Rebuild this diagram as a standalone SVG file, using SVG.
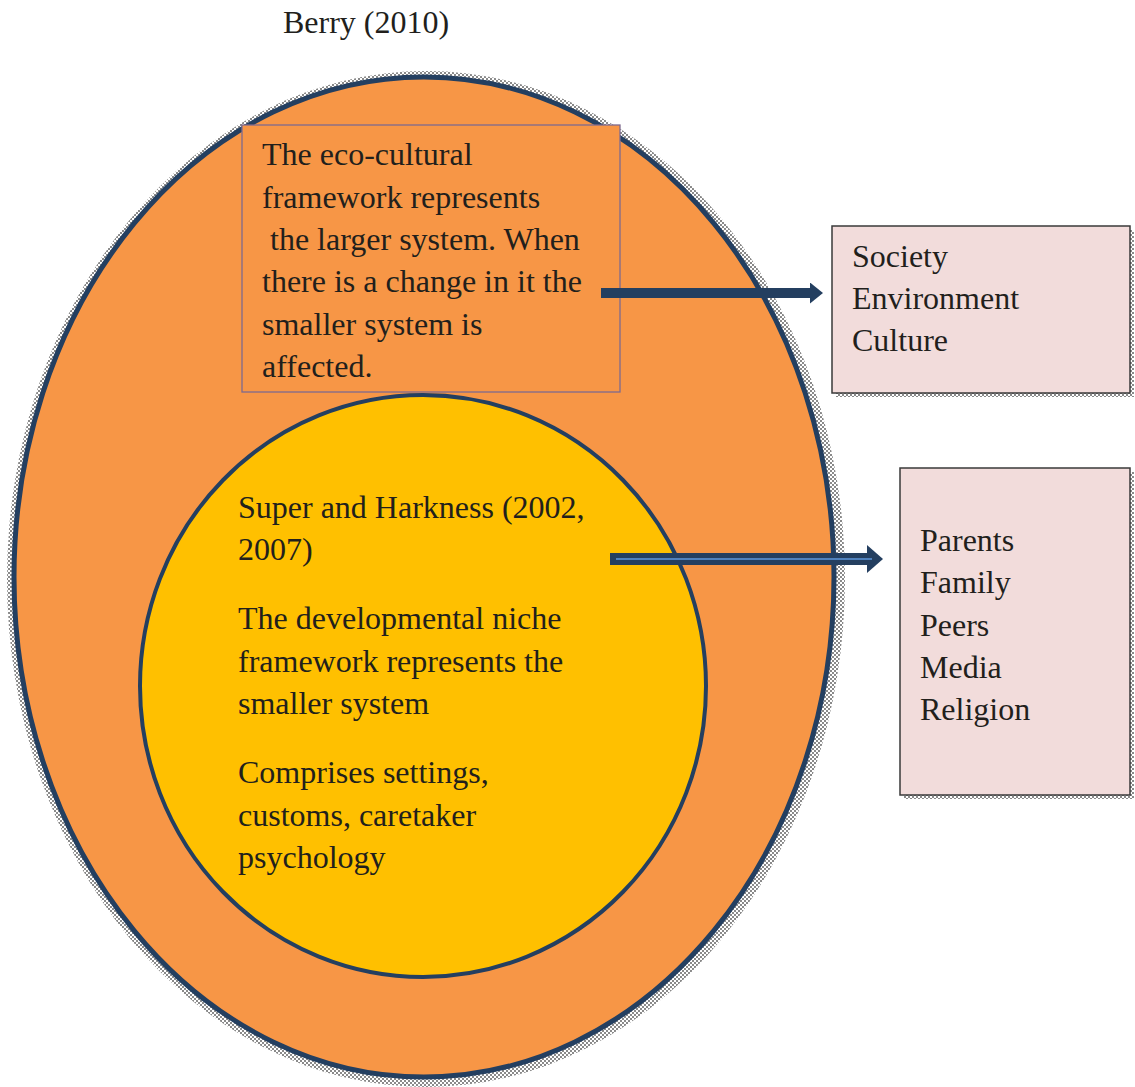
<svg xmlns="http://www.w3.org/2000/svg" width="1135" height="1087" viewBox="0 0 1135 1087">
<defs>
<pattern id="chk" width="4" height="4" patternUnits="userSpaceOnUse">
<rect width="4" height="4" fill="#ffffff"/>
<rect width="2" height="2" fill="#8a8a8a"/>
<rect x="2" y="2" width="2" height="2" fill="#8a8a8a"/>
</pattern>
<marker id="ah1" viewBox="0 0 13 21" refX="0" refY="10.5" markerWidth="13" markerHeight="21" markerUnits="userSpaceOnUse" orient="auto">
<path d="M0,0 L13,10.5 L0,21 Z" fill="#243F60"/>
</marker>
<marker id="ah2" viewBox="0 0 16 28" refX="0" refY="14" markerWidth="16" markerHeight="28" markerUnits="userSpaceOnUse" orient="auto">
<path d="M0,0 L16,14 L0,28 Z" fill="#243F60"/>
</marker>
</defs>
<style>
.t{font-size:32px;fill:#221f1c}
.pink{fill:#F2DCDB;stroke:#3a3a3a;stroke-width:1.5}
</style>
<g class="t" font-family="Liberation Serif, Times New Roman, serif" font-size="32">
<text x="283" y="33">Berry (2010)</text>
</g>
<g id="outer">
<ellipse cx="426" cy="579" rx="419" ry="508" fill="url(#chk)"/>
<ellipse cx="424" cy="577" rx="410" ry="500" fill="#F79646" stroke="#243F60" stroke-width="5"/>
</g>
<g id="inner" class="t" font-family="Liberation Serif, Times New Roman, serif" font-size="32">
<ellipse cx="423" cy="686" rx="283" ry="291" fill="#FFC000" stroke="#243F60" stroke-width="4"/>
<text x="238" y="518">Super and Harkness (2002,</text>
<text x="238" y="560">2007)</text>
<text x="238" y="629">The developmental niche</text>
<text x="238" y="672">framework represents the</text>
<text x="238" y="714">smaller system</text>
<text x="238" y="783">Comprises settings,</text>
<text x="238" y="826">customs, caretaker</text>
<text x="238" y="868">psychology</text>
</g>
<g id="ecobox" class="t" font-family="Liberation Serif, Times New Roman, serif" font-size="32">
<rect x="242" y="125" width="378" height="267" fill="#F79646" stroke="#7f6a8f" stroke-width="1.3"/>
<text x="262" y="165">The eco-cultural</text>
<text x="262" y="208">framework represents</text>
<text x="262" y="250" xml:space="preserve"> the larger system. When</text>
<text x="262" y="292">there is a change in it the</text>
<text x="262" y="335">smaller system is</text>
<text x="262" y="377">affected.</text>
</g>
<g id="society" class="t" font-family="Liberation Serif, Times New Roman, serif" font-size="32">
<rect x="836" y="230" width="298" height="167" fill="url(#chk)"/>
<rect x="832" y="226" width="298" height="167" class="pink"/>
<text x="852" y="267">Society</text>
<text x="852" y="309">Environment</text>
<text x="852" y="351">Culture</text>
</g>
<g id="family" class="t" font-family="Liberation Serif, Times New Roman, serif" font-size="32">
<rect x="904" y="472" width="230" height="327" fill="url(#chk)"/>
<rect x="900" y="468" width="230" height="327" class="pink"/>
<text x="920" y="551">Parents</text>
<text x="920" y="593">Family</text>
<text x="920" y="636">Peers</text>
<text x="920" y="678">Media</text>
<text x="920" y="720">Religion</text>
</g>
<g id="connectors">
<line x1="601" y1="293" x2="810" y2="293" stroke="#243F60" stroke-width="10" marker-end="url(#ah1)"/>
<line x1="610" y1="559" x2="867" y2="559" stroke="#243F60" stroke-width="12" marker-end="url(#ah2)"/>
<line x1="616" y1="559" x2="872" y2="559" stroke="#4F81BD" stroke-width="2"/>
</g>
</svg>
